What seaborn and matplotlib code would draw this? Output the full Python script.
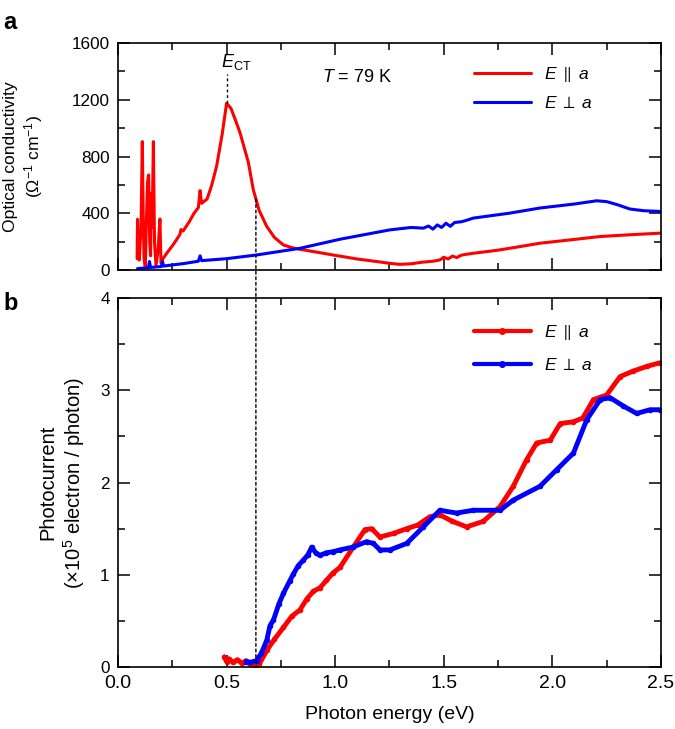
import numpy as np
import pandas as pd
import matplotlib.pyplot as plt
import seaborn as sns
from matplotlib.lines import Line2D
from matplotlib.patches import ConnectionPatch
from matplotlib.ticker import MultipleLocator

# Panel a: optical conductivity, E || a
sig_par_e = [0.088, 0.090, 0.094, 0.098, 0.106, 0.112, 0.116, 0.120, 0.126, 0.130, 0.136,
             0.141, 0.146, 0.150, 0.153, 0.157, 0.163, 0.168, 0.175, 0.185, 0.193, 0.198,
             0.207, 0.23, 0.25, 0.27, 0.285, 0.29, 0.30, 0.33, 0.35, 0.37, 0.378, 0.385,
             0.41, 0.43, 0.454, 0.48, 0.50, 0.52, 0.54, 0.562, 0.60, 0.623, 0.65, 0.685,
             0.72, 0.761, 0.80, 0.838, 0.90, 0.99, 1.10, 1.20, 1.252, 1.298, 1.35, 1.40,
             1.45, 1.482, 1.50, 1.52, 1.54, 1.56, 1.58, 1.60, 1.636, 1.75, 1.85, 1.943,
             2.08, 2.219, 2.35, 2.50]
sig_par = [80, 358, 120, 70, 300, 905, 400, 80, 20, 300, 620,
           670, 200, 100, 540, 300, 905, 200, 30, 150, 360, 50,
           80, 130, 170, 215, 250, 285, 275, 345, 400, 440, 560, 470,
           500, 590, 731, 960, 1175, 1140, 1060, 967, 760, 566, 420, 307,
           230, 177, 158, 146, 130, 106, 78, 58, 47, 40, 44, 55,
           62, 71, 90, 78, 98, 88, 104, 110, 118, 140, 165, 189,
           212, 236, 248, 260]

# Panel a: optical conductivity, E perp a
sig_perp_e = [0.09, 0.12, 0.14, 0.145, 0.15, 0.18, 0.20, 0.205, 0.21, 0.30, 0.37, 0.378,
              0.385, 0.50, 0.638, 0.838, 1.022, 1.252, 1.35, 1.406, 1.43, 1.45, 1.47,
              1.49, 1.51, 1.53, 1.55, 1.58, 1.60, 1.636, 1.80, 1.943, 2.10, 2.204,
              2.25, 2.30, 2.357, 2.42, 2.495]
sig_perp = [10, 14, 16, 60, 18, 22, 25, 60, 28, 45, 62, 100,
            66, 80, 106, 153, 217, 283, 300, 295, 310, 288, 318,
            300, 330, 308, 335, 340, 348, 366, 400, 437, 465, 488,
            482, 460, 430, 418, 413]

# Panel b: photocurrent, E || a
pc_par_e = [0.49, 0.50, 0.51, 0.53, 0.55, 0.57, 0.59, 0.61, 0.63, 0.65, 0.685, 0.72, 0.762,
            0.80, 0.838, 0.87, 0.899, 0.93, 0.96, 0.99, 1.022, 1.083, 1.137, 1.168, 1.206,
            1.27, 1.329, 1.38, 1.436, 1.482, 1.54, 1.605, 1.682, 1.759, 1.82, 1.882, 1.928,
            1.99, 2.036, 2.097, 2.14, 2.189, 2.25, 2.312, 2.373, 2.435, 2.496]
pc_par = [0.11, 0.06, 0.09, 0.05, 0.08, 0.04, 0.07, 0.03, 0.01, 0.03, 0.18, 0.30, 0.43,
          0.55, 0.62, 0.74, 0.82, 0.86, 0.94, 1.02, 1.08, 1.30, 1.49, 1.50, 1.41,
          1.45, 1.50, 1.54, 1.63, 1.65, 1.58, 1.52, 1.58, 1.74, 1.96, 2.25, 2.43,
          2.46, 2.64, 2.66, 2.70, 2.90, 2.95, 3.15, 3.21, 3.26, 3.30]

# Panel b: photocurrent, E perp a
pc_perp_e = [0.59, 0.61, 0.638, 0.66, 0.685, 0.70, 0.716, 0.74, 0.762, 0.79, 0.808, 0.83,
             0.854, 0.875, 0.892, 0.91, 0.93, 0.96, 0.99, 1.022, 1.08, 1.145, 1.176, 1.206,
             1.252, 1.329, 1.406, 1.482, 1.559, 1.636, 1.759, 1.82, 1.943, 2.02, 2.097,
             2.158, 2.22, 2.266, 2.327, 2.388, 2.45, 2.496]
pc_perp = [0.06, 0.05, 0.07, 0.15, 0.29, 0.45, 0.51, 0.68, 0.80, 0.93, 1.01, 1.10,
           1.16, 1.22, 1.30, 1.24, 1.21, 1.24, 1.25, 1.27, 1.30, 1.36, 1.34, 1.27,
           1.27, 1.34, 1.52, 1.70, 1.67, 1.70, 1.70, 1.81, 1.96, 2.14, 2.32,
           2.68, 2.90, 2.92, 2.83, 2.75, 2.79, 2.79]

e_ct = 0.5
e_gap = 0.635
labels = [r'$E\;\parallel\;a$', r'$E\;\perp\;a$']
red, blue = '#ff0000', '#0000ff'

sns.set_style('ticks')
plt.rcParams['font.family'] = ['Liberation Sans', 'DejaVu Sans']
plt.rcParams['mathtext.fontset'] = 'custom'
plt.rcParams['mathtext.rm'] = 'Liberation Sans'
plt.rcParams['mathtext.it'] = 'Liberation Sans:italic'
plt.rcParams['axes.linewidth'] = 1.2
plt.rcParams['text.color'] = 'black'
plt.rcParams['axes.labelcolor'] = 'black'
plt.rcParams['xtick.color'] = 'black'
plt.rcParams['ytick.color'] = 'black'
plt.rcParams['axes.edgecolor'] = 'black'

fig = plt.figure(figsize=(6.75, 7.29), dpi=100)
ax_a = fig.add_axes([0.1748, 0.6296, 0.8044, 0.3114])
ax_b = fig.add_axes([0.1748, 0.085, 0.8044, 0.506])

# panel a
sns.lineplot(x=sig_par_e, y=sig_par, ax=ax_a, color=red, lw=2.2, sort=False, estimator=None)
sns.lineplot(x=sig_perp_e, y=sig_perp, ax=ax_a, color=blue, lw=2.2, sort=False, estimator=None)
ax_a.set_ylim(0, 1600)
ax_a.yaxis.set_major_locator(MultipleLocator(400))
ax_a.yaxis.set_minor_locator(MultipleLocator(200))
ax_a.set_ylabel('Optical conductivity\n(Ω$^{-1}$ cm$^{-1}$)', fontsize=12.6)
ax_a.yaxis.set_label_coords(-0.135, 0.5)
ax_a.tick_params(labelbottom=False)
ax_a.plot([e_ct, e_ct], [1175, 1380], ls=(0, (2, 2)), color='black', lw=1)
ax_a.text(0.545, 1395, r'$E_{\rm CT}$', ha='center', va='bottom', fontsize=13)
ax_a.text(0.94, 1325, r'$T$ = 79 K', ha='left', va='baseline', fontsize=13)
h_a = [Line2D([], [], color=c, lw=2.2) for c in (red, blue)]
ax_a.legend(h_a, labels, loc='upper left', bbox_to_anchor=(0.626, 0.97), frameon=False,
            fontsize=12.5, handlelength=3.3, labelspacing=0.6, handletextpad=0.75)

# panel b
sns.lineplot(x=pc_par_e, y=pc_par, ax=ax_b, color=red, lw=3.5, sort=False, estimator=None,
             marker='o', markersize=4, markeredgewidth=0)
sns.lineplot(x=pc_perp_e, y=pc_perp, ax=ax_b, color=blue, lw=3.5, sort=False, estimator=None,
             marker='o', markersize=4, markeredgewidth=0)
ax_b.set_ylim(0, 4)
ax_b.yaxis.set_major_locator(MultipleLocator(1))
ax_b.yaxis.set_minor_locator(MultipleLocator(0.5))
ax_b.xaxis.set_major_formatter(lambda v, p: f'{v:.1f}')
ax_b.set_xlabel('Photon energy (eV)', fontsize=14, labelpad=10)
ax_b.set_ylabel('Photocurrent\n(×10$^5$ electron / photon)', fontsize=14.5)
ax_b.yaxis.set_label_coords(-0.057, 0.5)
h_b = [Line2D([], [], color=c, lw=3, marker='o', markersize=4) for c in (red, blue)]
ax_b.legend(h_b, labels, loc='upper left', bbox_to_anchor=(0.626, 0.974), frameon=False,
            fontsize=12.5, handlelength=3.3, labelspacing=0.85, handletextpad=0.75)

for ax in (ax_a, ax_b):
    ax.set_xlim(0, 2.5)
    ax.xaxis.set_major_locator(MultipleLocator(0.5))
    ax.xaxis.set_minor_locator(MultipleLocator(0.25))
    ax.tick_params(which='both', direction='in', top=True, right=True, width=1.1)
    ax.tick_params(axis='y', labelsize=12.3)
    ax.tick_params(axis='x', labelsize=14)
    ax.tick_params(which='major', length=8.5, pad=6)
    ax.tick_params(which='minor', length=5)

# dotted line from panel a through panel b at the onset
con = ConnectionPatch(xyA=(e_gap, 500), coordsA=ax_a.transData,
                      xyB=(e_gap, 0), coordsB=ax_b.transData,
                      ls=(0, (2, 2)), color='black', lw=1)
fig.add_artist(con)

fig.text(0.005, 0.985, 'a', fontsize=17, fontweight='bold', va='top')
fig.text(0.005, 0.6, 'b', fontsize=17, fontweight='bold', va='top')

fig.savefig('out.png', dpi=100)
